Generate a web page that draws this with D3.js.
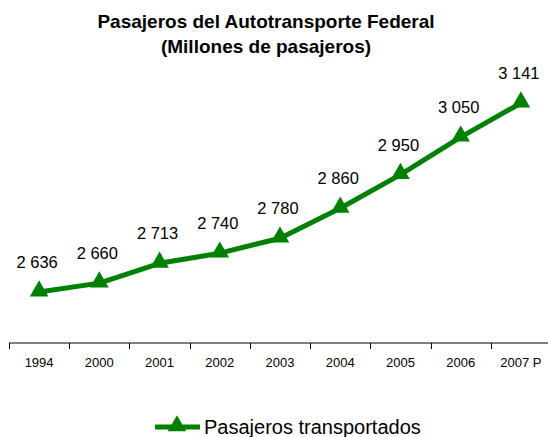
<!DOCTYPE html>
<html>
<head>
<meta charset="utf-8">
<script src="https://cdn.jsdelivr.net/npm/d3@7"></script>
<style>
  body { margin: 0; background: #fff; }
  svg { display: block; font-family: "Liberation Sans", Arial, sans-serif; }
</style>
</head>
<body>
<svg id="chart" width="548" height="437"></svg>
<script>
let years = ['1994', '2000', '2001', '2002', '2003', '2004', '2005', '2006', '2007 P'];
let pasajeros = [2636, 2660, 2713, 2740, 2780, 2860, 2950, 3050, 3141];
let etiquetas = ['2 636', '2 660', '2 713', '2 740', '2 780', '2 860', '2 950', '3 050', '3 141'];
let green = '#008000';

var svg = d3.select('#chart');

var x = d3.scaleBand().domain(years).range([9, 551]);
var y = d3.scaleLinear().domain([2500, 3200]).range([343, 81]);

// title
svg.append('text')
    .attr('x', 266).attr('y', 28)
    .attr('text-anchor', 'middle')
    .attr('font-size', '19px').attr('font-weight', 'bold')
    .text('Pasajeros del Autotransporte Federal');
svg.append('text')
    .attr('x', 266).attr('y', 53)
    .attr('text-anchor', 'middle')
    .attr('font-size', '19px').attr('font-weight', 'bold')
    .text('(Millones de pasajeros)');

// x axis
var xAxis = svg.append('g').attr('transform', 'translate(0,343)');
xAxis.append('line')
    .attr('x1', 9).attr('x2', 548)
    .attr('stroke', '#000').attr('stroke-width', 1);
xAxis.selectAll('.tick')
    .data(years)
    .enter()
    .append('line')
    .attr('class', 'tick')
    .attr('x1', function(d) { return Math.round(x(d)) + 0.5; })
    .attr('x2', function(d) { return Math.round(x(d)) + 0.5; })
    .attr('y1', 0).attr('y2', 6)
    .attr('stroke', '#000');
xAxis.selectAll('.lbl')
    .data(years)
    .enter()
    .append('text')
    .attr('class', 'lbl')
    .attr('x', function(d) { return x(d) + x.bandwidth() / 2; })
    .attr('y', 24)
    .attr('text-anchor', 'middle')
    .attr('font-size', '13px')
    .text(function(d) { return d; });

// line
var line = d3.line()
    .x(function(d, i) { return x(years[i]) + x.bandwidth() / 2; })
    .y(function(d) { return y(d); });

svg.append('path')
    .datum(pasajeros)
    .attr('d', line)
    .attr('fill', 'none')
    .attr('stroke', green)
    .attr('stroke-width', 5)
    .attr('stroke-linejoin', 'round');

var tri = d3.symbol().type(d3.symbolTriangle).size(150);

svg.selectAll('.marker')
    .data(pasajeros)
    .enter()
    .append('path')
    .attr('class', 'marker')
    .attr('d', tri)
    .attr('fill', green)
    .attr('transform', function(d, i) {
        return 'translate(' + (x(years[i]) + x.bandwidth() / 2) + ',' + (y(d) - 1) + ')';
    });

// value labels
svg.selectAll('.val')
    .data(pasajeros)
    .enter()
    .append('text')
    .attr('class', 'val')
    .attr('x', function(d, i) { return x(years[i]) + x.bandwidth() / 2 - 2; })
    .attr('y', function(d) { return y(d) - 24; })
    .attr('text-anchor', 'middle')
    .attr('font-size', '16.5px')
    .text(function(d, i) { return etiquetas[i]; });

// legend
var leg = svg.append('g').attr('transform', 'translate(0,427)');
leg.append('line')
    .attr('x1', 155).attr('x2', 200)
    .attr('stroke', green).attr('stroke-width', 5);
leg.append('path')
    .attr('d', tri)
    .attr('fill', green)
    .attr('transform', 'translate(177,-1)');
leg.append('text')
    .attr('x', 204).attr('y', 7)
    .attr('font-size', '20px')
    .text('Pasajeros transportados');
</script>
</body>
</html>
